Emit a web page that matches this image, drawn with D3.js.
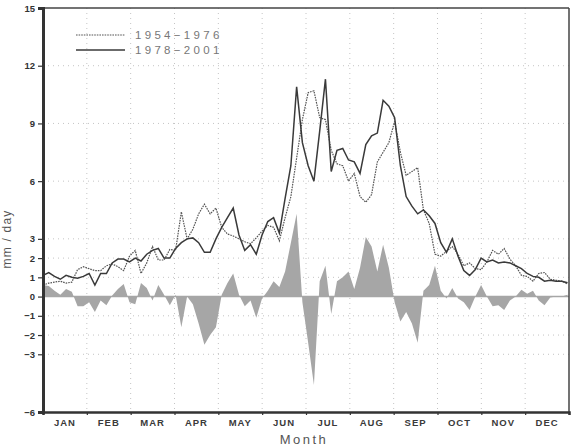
<!DOCTYPE html>
<html><head><meta charset="utf-8">
<script src="https://cdn.jsdelivr.net/npm/d3@7"></script>
<style>
html,body{margin:0;padding:0;background:#fff;}
svg{display:block;}
text{font-family:"Liberation Sans",Arial,sans-serif;}
</style></head>
<body>
<svg id="chart" width="575" height="447"></svg>
<script>
// ---- data (sampled every 4 days, from Jan 1) ----
const months = ["JAN","FEB","MAR","APR","MAY","JUN","JUL","AUG","SEP","OCT","NOV","DEC"];
const yTicks = [-6,-3,-2,-1,0,1,2,3,6,9,12,15];
const yGrid = [-3,-2,-1,1,2,3,6,9,12];
const seriesNames = ["1954\u22121976","1978\u22122001"];
const sampleStep = 4; // days between samples
const rain1954 = [0.6,0.7,0.75,0.8,0.7,0.75,1.4,1.55,1.45,1.35,1.35,1.6,1.7,1.55,1.35,2.1,2.4,1.2,1.75,2.6,
  1.9,1.9,2.45,2.4,4.4,3.0,3.5,4.3,4.8,4.3,4.6,3.6,3.25,3.15,3.0,2.85,2.75,3.05,3.4,3.7,
  3.6,2.9,4.1,5.2,7.2,9.2,10.6,10.7,9.3,9.2,7.6,6.9,6.8,6.0,6.4,5.2,4.9,5.3,7.0,7.5,
  8.0,9.1,7.5,6.3,6.5,6.7,4.5,3.8,2.2,2.1,2.35,2.6,2.2,1.6,1.75,1.45,1.4,1.8,2.4,2.2,
  2.5,1.95,1.6,1.1,1.05,0.8,1.2,1.25,0.9,0.85,0.8,0.65];
const rain1978 = [1.1,1.25,1.05,0.9,1.1,1.0,0.95,1.05,1.2,0.6,1.2,1.2,1.75,1.95,1.95,1.8,2.0,1.85,2.2,2.4,
  2.5,2.0,2.0,2.5,2.8,3.0,3.05,2.8,2.3,2.3,3.0,3.6,4.1,4.6,3.2,2.4,2.7,2.2,3.2,3.9,
  4.1,3.3,5.1,6.8,10.9,8.0,6.8,6.0,8.6,11.3,6.5,7.6,7.7,7.1,7.0,6.4,7.9,8.35,8.5,10.2,
  9.9,9.3,6.8,5.2,4.7,4.3,4.5,4.2,3.8,2.8,2.3,3.0,2.1,1.35,1.1,1.4,2.0,1.8,1.9,1.75,
  1.8,1.75,1.6,1.45,1.2,1.05,1.0,0.8,0.85,0.8,0.8,0.72];
const difference = [0.6,0.55,0.3,0.1,0.4,0.25,-0.5,-0.5,-0.3,-0.8,-0.2,-0.45,0.05,0.4,0.65,-0.3,-0.4,0.7,0.45,-0.2,
  0.6,0.1,-0.45,0.1,-1.6,0.0,-0.4,-1.4,-2.5,-2.0,-1.6,0.1,0.7,1.2,0.1,-0.5,-0.2,-1.1,-0.1,0.3,
  0.8,0.5,1.3,2.8,4.3,-0.3,-2.4,-4.6,0.8,1.6,-0.9,0.8,1.0,1.3,0.4,1.5,3.1,2.6,1.3,2.7,
  1.5,-0.3,-1.3,-0.8,-1.4,-2.4,0.3,0.6,1.6,0.3,-0.1,0.45,-0.1,-0.3,-0.7,0.0,0.6,0.0,-0.5,-0.45,
  -0.7,-0.2,0.0,0.35,0.15,0.3,-0.2,-0.45,-0.05,0.0,0.0,0.1];

// ---- layout ----
const svg = d3.select("#chart");
const L = 43, R = 569, T = 8, B = 412;
const x = d3.scaleLinear().domain([0, 365]).range([L, R]);
const y = d3.scaleLinear().domain([-6, 15]).range([B, T]);
const monthDay = i => i * 365 / 12;

// grid
const g = svg.append("g");
g.selectAll("line.gy").data(yGrid).join("line")
  .attr("x1", L).attr("x2", R).attr("y1", d => y(d)).attr("y2", d => y(d))
  .attr("stroke", "#c4c4c4").attr("stroke-width", 1).attr("stroke-dasharray", "1,4");
g.selectAll("line.gx").data(d3.range(1, 12)).join("line")
  .attr("x1", d => x(monthDay(d))).attr("x2", d => x(monthDay(d))).attr("y1", T).attr("y2", B)
  .attr("stroke", "#c4c4c4").attr("stroke-width", 1).attr("stroke-dasharray", "1,4");

// difference area
const area = d3.area()
  .x((d, i) => x(i * sampleStep))
  .y0(y(0)).y1(d => y(d));
svg.append("path").datum(difference).attr("d", area).attr("fill", "#a6a6a6");
svg.append("line").attr("x1", L).attr("x2", R).attr("y1", y(0)).attr("y2", y(0))
  .attr("stroke", "#a6a6a6").attr("stroke-width", 1.6);

// lines
const line = d3.line().x((d, i) => x(i * sampleStep)).y(d => y(d));
svg.append("path").datum(rain1954).attr("d", line).attr("fill", "none")
  .attr("stroke", "#555").attr("stroke-width", 1.2).attr("stroke-dasharray", "1.6,1");
svg.append("path").datum(rain1978).attr("d", line).attr("fill", "none")
  .attr("stroke", "#3a3a3a").attr("stroke-width", 1.5);

// frame
svg.append("line").attr("x1", L).attr("x2", R).attr("y1", T).attr("y2", T).attr("stroke", "#444").attr("stroke-width", 1.5);
svg.append("line").attr("x1", R).attr("x2", R).attr("y1", T).attr("y2", B).attr("stroke", "#444").attr("stroke-width", 1.5);

// y axis
const ya = svg.append("g").attr("transform", `translate(${L},0)`)
  .call(d3.axisLeft(y).tickValues(yTicks).tickSize(5).tickPadding(3).tickFormat(d3.format("d")));
ya.select(".domain").attr("stroke", "#333").attr("stroke-width", 3);
ya.selectAll(".tick line").attr("stroke", "#333").attr("stroke-width", 1.2);
ya.selectAll("text").attr("font-size", 9.5).attr("font-weight", "bold").attr("fill", "#333")
  .attr("font-family", "'Liberation Sans',Arial,sans-serif");

// x axis
const xa = svg.append("g").attr("transform", `translate(0,${B})`)
  .call(d3.axisBottom(x).tickValues(d3.range(0, 13).map(monthDay)).tickSize(3).tickFormat(""));
xa.select(".domain").attr("stroke", "#333").attr("stroke-width", 2.5);
xa.selectAll(".tick line").attr("stroke", "#333").attr("stroke-width", 1.2);
svg.append("g").selectAll("text").data(months).join("text")
  .attr("x", (d, i) => x(monthDay(i + 0.5))).attr("y", 426)
  .attr("text-anchor", "middle").attr("font-size", 9.5).attr("font-weight", "bold")
  .attr("letter-spacing", 1).attr("fill", "#3a3a3a").text(d => d);

// axis titles
svg.append("text").attr("x", 304).attr("y", 444).attr("text-anchor", "middle")
  .attr("font-size", 13).attr("letter-spacing", 2.5).attr("fill", "#555").text("Month");
svg.append("text").attr("transform", "translate(11,239) rotate(-90)").attr("text-anchor", "middle")
  .attr("font-size", 12).attr("letter-spacing", 1.2).attr("fill", "#555").text("mm / day");

// legend
const leg = svg.append("g");
[0, 1].forEach(i => {
  const ly = 35 + i * 15;
  leg.append("line").attr("x1", 76).attr("x2", 125).attr("y1", ly).attr("y2", ly)
    .attr("stroke", i === 0 ? "#555" : "#3a3a3a").attr("stroke-width", i === 0 ? 1.2 : 1.5)
    .attr("stroke-dasharray", i === 0 ? "1.6,1" : null);
  leg.append("text").attr("x", 135).attr("y", ly + 4).attr("font-size", 11.5)
    .attr("letter-spacing", 3.3).attr("fill", "#777").text(seriesNames[i]);
});
</script>
</body></html>
